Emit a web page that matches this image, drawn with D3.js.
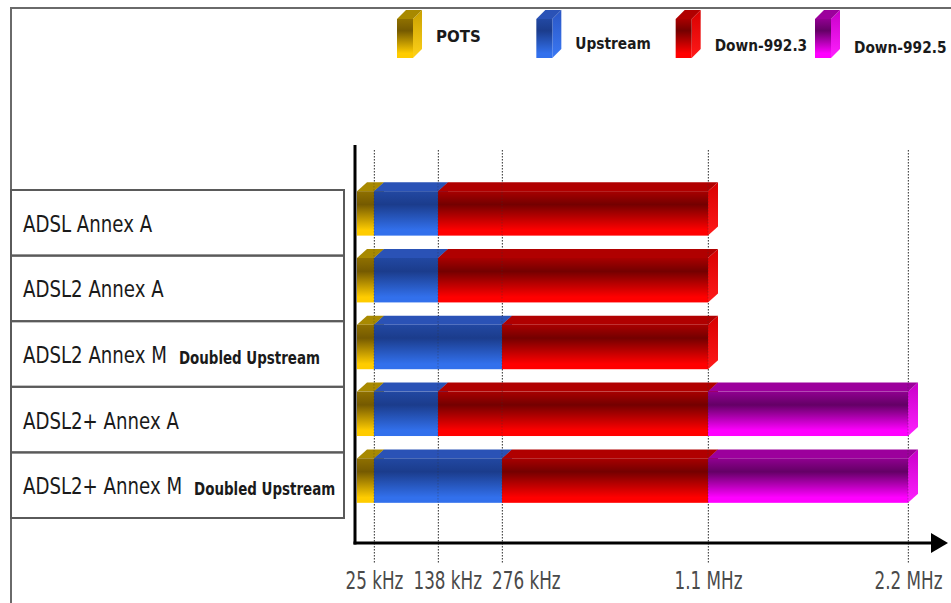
<!DOCTYPE html>
<html>
<head>
<meta charset="utf-8">
<script src="https://cdn.jsdelivr.net/npm/d3@7"></script>
<style>
  html, body { margin: 0; padding: 0; background: #fff; }
  svg { display: block; }
  .narrow { font-family: "DejaVu Sans", sans-serif; }
</style>
</head>
<body>
<svg id="chart" width="951" height="603"></svg>
<script>
// ADSL flavours and the frequency bands each one uses (kHz)
const categories = ["ADSL Annex A", "ADSL2 Annex A", "ADSL2 Annex M", "ADSL2+ Annex A", "ADSL2+ Annex M"];
const notes = ["", "", "Doubled Upstream", "", "Doubled Upstream"];
const seriesNames = ["POTS", "Upstream", "Down-992.3", "Down-992.5"];

// [start, end] of each band per flavour, null where the band is not used
const potsBand = [[0, 25], [0, 25], [0, 25], [0, 25], [0, 25]];
const upstreamBand = [[25, 138], [25, 138], [25, 276], [25, 138], [25, 276]];
const down9923Band = [[138, 1100], [138, 1100], [276, 1100], [138, 1100], [276, 1100]];
const down9925Band = [null, null, null, [1100, 2200], [1100, 2200]];

const tickValues = [25, 138, 276, 1100, 2200];
const tickLabels = ["25 kHz", "138 kHz", "276 kHz", "1.1 MHz", "2.2 MHz"];

const bands = [potsBand, upstreamBand, down9923Band, down9925Band];

// colour ramps per series: front face (top, dark, bright), top face, end face
const palette = {
  "POTS":       { front: ["#8f7000", "#755a00", "#ffcc00"], top: "#a88900", side: ["#c9a000", "#ffd21a"] },
  "Upstream":   { front: ["#2248a2", "#1b3c8c", "#3270ec"], top: "#2a52b6", side: ["#2a56c4", "#3a78f4"] },
  "Down-992.3": { front: ["#a80000", "#740000", "#ff0000"], top: "#b00000", side: ["#d80000", "#ff1a1a"] },
  "Down-992.5": { front: ["#900090", "#640066", "#ff00ff"], top: "#9c009c", side: ["#c800c8", "#ff20ff"] }
};

// horizontal squeeze applied to the text, giving a condensed face
const squeezeLabel = 0.79;
const squeezeTick = 0.7;
const squeezeLegend = 0.86;

const svg = d3.select("#chart");
const defs = svg.append("defs");

seriesNames.forEach((name, i) => {
  const p = palette[name];
  const g = defs.append("linearGradient").attr("id", "front" + i)
    .attr("x1", 0).attr("y1", 0).attr("x2", 0).attr("y2", 1);
  g.append("stop").attr("offset", "0").attr("stop-color", p.front[0]);
  g.append("stop").attr("offset", "0.3").attr("stop-color", p.front[1]);
  g.append("stop").attr("offset", "0.88").attr("stop-color", p.front[2]);
  g.append("stop").attr("offset", "1").attr("stop-color", p.front[2]);
  const s = defs.append("linearGradient").attr("id", "side" + i)
    .attr("x1", 0).attr("y1", 0).attr("x2", 0).attr("y2", 1);
  s.append("stop").attr("offset", "0").attr("stop-color", p.side[0]);
  s.append("stop").attr("offset", "1").attr("stop-color", p.side[1]);
});

// condensed text placed at (x, y)
function squeezedText(parent, x0, y0, k, str) {
  return parent.append("text")
    .attr("class", "narrow")
    .attr("transform", `translate(${x0},${y0}) scale(${k},1)`)
    .text(str);
}

// frame around the drawing
svg.append("path")
  .attr("d", "M11,603 L11,8 L951,8")
  .attr("fill", "none").attr("stroke", "#6a6a6a").attr("stroke-width", 2);

// non-uniform frequency axis
const x = d3.scaleLinear()
  .domain([0, ...tickValues])
  .range([357, 374, 438, 502, 708, 908]);

// bar rows
const y = d3.scaleBand()
  .domain(categories)
  .range([175.5, 509.5])
  .paddingInner(0.2)
  .paddingOuter(0.1);

// label table rows
const yRow = d3.scaleBand()
  .domain(categories)
  .range([190, 518]);

const depthX = 10, depthY = 9;

// dotted grid lines with tick labels
const axis = d3.axisBottom(x)
  .tickValues(tickValues)
  .tickFormat((d, i) => tickLabels[i])
  .tickSize(413)
  .tickPadding(9);

const axisG = svg.append("g")
  .attr("transform", "translate(0,150)")
  .call(axis);
axisG.select(".domain").remove();
axisG.selectAll(".tick line")
  .attr("stroke", "#555").attr("stroke-width", 1).attr("stroke-dasharray", "1.5,1.5");
axisG.selectAll(".tick text")
  .attr("class", "narrow")
  .attr("font-size", 24)
  .attr("fill", "#4a4a4a");

// keep tick labels apart when ticks are close
let prevRight = -Infinity;
axisG.selectAll(".tick").each(function () {
  const t = d3.select(this).select("text");
  const box = t.node().getBBox();
  const tr = d3.select(this).attr("transform");
  const tx = +tr.match(/translate\(([-\d.]+)/)[1];
  const w = box.width * squeezeTick;
  const left = tx - w / 2;
  const gap = 10;
  let shift = 0;
  if (left < prevRight + gap) shift = prevRight + gap - left;
  const ty = +t.attr("y");
  t.attr("y", null)
    .attr("transform", `translate(${shift},${ty}) scale(${squeezeTick},1)`);
  prevRight = left + shift + w;
});

// 3D bar segments
const barsG = svg.append("g");
categories.forEach((cat, r) => {
  const top = y(cat);
  const bottom = top + y.bandwidth();
  const frontTop = top + depthY;
  // last segment of the row gets a visible end face
  let lastIdx = -1;
  bands.forEach((b, si) => { if (b[r]) lastIdx = si; });
  bands.forEach((b, si) => {
    const seg = b[r];
    if (!seg) return;
    const x0 = x(seg[0]), x1 = x(seg[1]);
    const g = barsG.append("g");
    // end face
    g.append("path")
      .attr("d", `M${x1},${frontTop} L${x1 + depthX},${top} L${x1 + depthX},${bottom - depthY} L${x1},${bottom} Z`)
      .attr("fill", si === lastIdx ? `url(#side${si})` : palette[seriesNames[si]].top);
    // top face
    g.append("path")
      .attr("d", `M${x0},${frontTop} L${x0 + depthX},${top} L${x1 + depthX},${top} L${x1},${frontTop} Z`)
      .attr("fill", palette[seriesNames[si]].top);
    // front face
    g.append("rect")
      .attr("x", x0).attr("y", frontTop)
      .attr("width", x1 - x0).attr("height", bottom - frontTop)
      .attr("fill", `url(#front${si})`);
  });
});

// grid lines faintly over the bars
svg.append("g")
  .selectAll("line")
  .data(tickValues)
  .join("line")
  .attr("x1", d => x(d)).attr("x2", d => x(d))
  .attr("y1", 150).attr("y2", 563)
  .attr("stroke", "#333").attr("stroke-opacity", 0.35)
  .attr("stroke-dasharray", "1.5,1.5");

// axis lines with arrow
svg.append("line")
  .attr("x1", 355).attr("x2", 355).attr("y1", 145).attr("y2", 544.5)
  .attr("stroke", "#000").attr("stroke-width", 3);
svg.append("line")
  .attr("x1", 353.5).attr("x2", 934).attr("y1", 543).attr("y2", 543)
  .attr("stroke", "#000").attr("stroke-width", 3);
svg.append("path")
  .attr("d", "M931,533 L948,543 L931,553 Z")
  .attr("fill", "#000");

// label table
const rowsG = svg.append("g");
categories.forEach((cat, r) => {
  const y0 = yRow(cat), h = yRow.bandwidth();
  rowsG.append("rect")
    .attr("x", 11).attr("y", y0).attr("width", 333).attr("height", h)
    .attr("fill", "none").attr("stroke", "#5a5a5a").attr("stroke-width", 2);
  const main = squeezedText(rowsG, 23, y0 + h / 2 + 9, squeezeLabel, cat)
    .attr("font-size", 23)
    .attr("fill", "#1a1a1a");
  if (notes[r]) {
    const w = main.node().getComputedTextLength() * squeezeLabel;
    squeezedText(rowsG, 23 + w + 12, y0 + h / 2 + 10, squeezeLabel, notes[r])
      .attr("font-size", 17)
      .attr("font-weight", "bold")
      .attr("fill", "#1a1a1a");
  }
});

// legend
const lx = d3.scalePoint().domain(seriesNames).range([397, 815]);
const lyText = d3.scaleLinear().domain([0, 1, 3]).range([42, 49, 53]);
const legendG = svg.append("g");
seriesNames.forEach((name, i) => {
  const x0 = lx(name), w = 16, top = 10, bottom = 58, d = 9;
  const g = legendG.append("g");
  g.append("path")
    .attr("d", `M${x0 + w},${top + d} L${x0 + w + d},${top} L${x0 + w + d},${bottom - d} L${x0 + w},${bottom} Z`)
    .attr("fill", `url(#side${i})`);
  g.append("path")
    .attr("d", `M${x0},${top + d} L${x0 + d},${top} L${x0 + w + d},${top} L${x0 + w},${top + d} Z`)
    .attr("fill", palette[name].top);
  g.append("rect")
    .attr("x", x0).attr("y", top + d).attr("width", w).attr("height", bottom - top - d)
    .attr("fill", `url(#front${i})`);
  squeezedText(legendG, x0 + w + d + 14, lyText(i), i === 0 ? 1 : squeezeLegend, name)
    .attr("font-size", i === 0 ? 15 : 16)
    .attr("font-weight", "bold")
    .attr("fill", "#1a1a1a");
});
</script>
</body>
</html>
